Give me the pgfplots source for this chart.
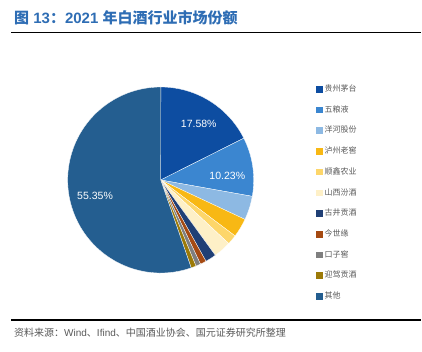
\documentclass[border=0pt]{standalone}
\usepackage{pgfplots}
\usepackage{pgfplotstable}
\pgfplotsset{compat=1.18}
\usepackage{fontspec}
\setmainfont{Liberation Sans}
\newfontfamily\cjk{Noto Sans CJK SC}
\definecolor{pie0}{HTML}{0D4DA1}
\definecolor{pie1}{HTML}{3B86D0}
\definecolor{pie2}{HTML}{8DB9E3}
\definecolor{pie3}{HTML}{F8B814}
\definecolor{pie4}{HTML}{FDD66A}
\definecolor{pie5}{HTML}{FEF0C7}
\definecolor{pie6}{HTML}{203F75}
\definecolor{pie7}{HTML}{A54A12}
\definecolor{pie8}{HTML}{7F7F7F}
\definecolor{pie9}{HTML}{9C7A08}
\definecolor{pie10}{HTML}{245E90}
\definecolor{titleblue}{HTML}{2E6DB4}
\definecolor{txtgray}{HTML}{595959}
\pgfplotstableread{
name value
Moutai 17.58
Wuliangye 10.23
Yanghe 4.15
Luzhou 3.30
Shunxin 1.70
Fenjiu 3.05
Gujing 1.90
Jinshiyuan 1.05
Kouzijiao 0.85
Yingjia 0.87
Other 55.35
}\sharetable
\begin{document}
\begin{tikzpicture}
\path[use as bounding box] (0,0) rectangle (422bp,352bp);
% title
\node[anchor=west, inner sep=0pt, text=titleblue, font=\bfseries\fontsize{15bp}{17bp}\selectfont] at (14bp,334.7bp)
  {{\cjk 图} 13{\cjk ：}2021 {\cjk 年白酒行业市场份额}};
\draw[line width=1.6bp] (11bp,319.5bp) -- (421bp,319.5bp);
\draw[line width=1.6bp] (11bp,32bp) -- (421bp,32bp);
\node[anchor=west, inner sep=0pt, text=txtgray, font=\fontsize{10bp}{12bp}\selectfont] at (14bp,19bp)
  {{\cjk 资料来源：}Wind{\cjk 、}Ifind{\cjk 、中国酒业协会、国元证券研究所整理}};
\begin{axis}[
  at={(160.7bp,172bp)}, anchor=center,
  scale only axis, width=186bp, height=186bp,
  xmin=-1, xmax=1, ymin=-1, ymax=1,
  hide axis, clip=false,
  legend cell align=left,
  legend style={draw=none, fill=none, inner sep=0pt, outer sep=0pt,
    at={(1.335,1.008)}, anchor=north west,
    row sep=13.7bp, column sep=2.5bp,
    font=\cjk\fontsize{8bp}{9bp}\selectfont, text=txtgray,
    nodes={inner sep=0pt, text height=6bp, text depth=1bp}},
  legend image code/.code={\fill[#1] (0bp,-2.8bp) rectangle (5.6bp,2.8bp);},
]
\pgfplotstablegetrowsof{\sharetable}
\pgfmathtruncatemacro\N{\pgfplotsretval-1}
\def\cum{0}
\pgfplotsforeachungrouped \i in {0,...,\N}{
  \pgfplotstablegetelem{\i}{value}\of\sharetable
  \let\v\pgfplotsretval
  \pgfmathsetmacro\a{90-3.6*\cum}
  \pgfmathsetmacro\b{90-3.6*(\cum+\v)}
  \edef\temp{\noexpand\fill[pie\i, draw=white, line width=0.3bp] (axis cs:0,0) -- ++(\a:93bp) arc[start angle=\a, end angle=\b, radius=93bp] -- cycle;}
  \temp
  \pgfmathsetmacro\cum{\cum+\v}
}
\node[text=white, font=\fontsize{10.5bp}{12bp}\selectfont] at (axis cs:0.409,0.599) {17.58\%};
\node[text=white, font=\fontsize{10.5bp}{12bp}\selectfont] at (axis cs:0.716,0.046) {10.23\%};
\node[text=white, font=\fontsize{10.5bp}{12bp}\selectfont] at (axis cs:-0.706,-0.169) {55.35\%};
\addlegendimage{pie0}\addlegendentry{贵州茅台}
\addlegendimage{pie1}\addlegendentry{五粮液}
\addlegendimage{pie2}\addlegendentry{洋河股份}
\addlegendimage{pie3}\addlegendentry{泸州老窖}
\addlegendimage{pie4}\addlegendentry{顺鑫农业}
\addlegendimage{pie5}\addlegendentry{山西汾酒}
\addlegendimage{pie6}\addlegendentry{古井贡酒}
\addlegendimage{pie7}\addlegendentry{今世缘}
\addlegendimage{pie8}\addlegendentry{口子窖}
\addlegendimage{pie9}\addlegendentry{迎驾贡酒}
\addlegendimage{pie10}\addlegendentry{其他}
\end{axis}
\end{tikzpicture}
\end{document}
